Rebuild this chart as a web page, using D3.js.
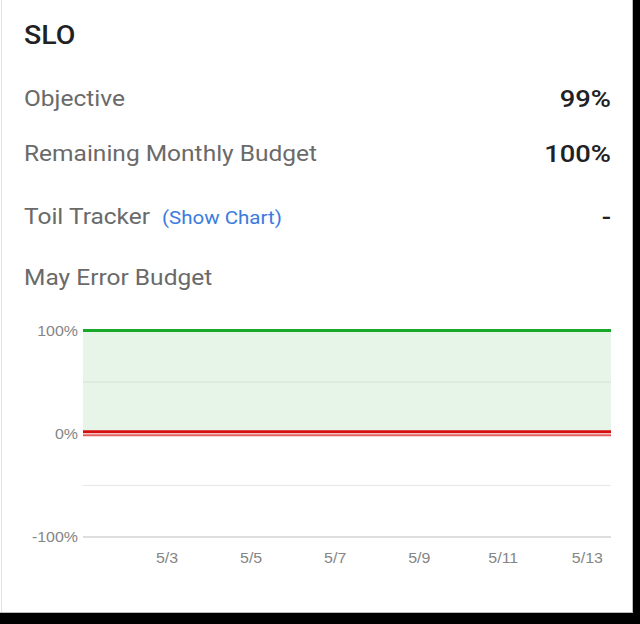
<!DOCTYPE html>
<html>
<head>
<meta charset="utf-8">
<script src="https://cdn.jsdelivr.net/npm/d3@7"></script>
<style>
  body { margin: 0; background: #000; }
  svg { display: block; }
</style>
</head>
<body>
<svg id="card"></svg>
<script>
// card rows
const rowLabels = ["Objective", "Remaining Monthly Budget", "Toil Tracker"];
const rowValues = ["99%", "100%", "-"];

// error budget chart data (percent)
const dates = ["2019-05-01", "2019-05-02", "2019-05-03", "2019-05-04", "2019-05-05",
               "2019-05-06", "2019-05-07", "2019-05-08", "2019-05-09", "2019-05-10",
               "2019-05-11", "2019-05-12", "2019-05-13", "2019-05-13T13:30"];
const remaining = [100, 100, 100, 100, 100, 100, 100, 100, 100, 100, 100, 100, 100, 100];
const burnLine = [2, 2, 2, 2, 2, 2, 2, 2, 2, 2, 2, 2, 2, 2];
const floorLine = [-1.5, -1.5, -1.5, -1.5, -1.5, -1.5, -1.5, -1.5, -1.5, -1.5, -1.5, -1.5, -1.5, -1.5];
const yTickValues = [-100, 0, 100];
const yGridValues = [-50, 50];
const xTickDates = ["2019-05-03", "2019-05-05", "2019-05-07", "2019-05-09", "2019-05-11", "2019-05-13"];

const width = 640, height = 624;
const SX = 1.14; // screenshot is a bit stretched sideways
const margin = { top: 330.5, right: 29, bottom: 87, left: 83 };

const parse = d => new Date(d);
const data = dates.map((d, i) => ({ date: parse(d), remaining: remaining[i], burn: burnLine[i], floor: floorLine[i] }));

const svg = d3.select("#card")
    .attr("width", width)
    .attr("height", height);

// card background + edges
svg.append("rect").attr("width", 633).attr("height", 613).attr("fill", "#fff");
svg.append("line").attr("x1", 1.5).attr("x2", 1.5).attr("y1", 0).attr("y2", 613).attr("stroke", "#e2e2e2");
svg.append("line").attr("x1", 632.5).attr("x2", 632.5).attr("y1", 0).attr("y2", 613).attr("stroke", "#bbb");
svg.append("line").attr("x1", 0).attr("x2", 633).attr("y1", 612.5).attr("y2", 612.5).attr("stroke", "#bbb");

function label(x, y, txt, opts) {
    const t = svg.append("text")
        .attr("transform", "translate(" + x + "," + y + ") scale(" + SX + ",1)")
        .attr("font-family", opts.font || "Roboto, sans-serif")
        .attr("font-size", opts.size)
        .attr("font-weight", opts.weight || 400)
        .attr("fill", opts.color)
        .attr("text-anchor", opts.anchor || "start")
        .text(txt);
    return t;
}

label(24, 44, "SLO", { size: 25, weight: 500, color: "#202124" });

const rowY = [106, 161, 224];
rowLabels.forEach((l, i) => {
    label(24, rowY[i], l, { size: 21.5, color: "#6a6a6a" });
    label(611, rowY[i] + 1, rowValues[i], { size: 24, weight: 500, color: "#202124", anchor: "end" });
});
label(162, 224, "(Show Chart)", { size: 18, color: "#3b7be0" });
label(24, 285, "May Error Budget", { size: 21.5, color: "#6a6a6a" });

// chart
const x = d3.scaleTime()
    .domain(d3.extent(data, d => d.date))
    .range([margin.left, width - margin.right]);
const y = d3.scaleLinear()
    .domain([-100, 100])
    .range([height - margin.bottom, margin.top]);

svg.append("g")
    .selectAll("line")
    .data(yGridValues)
    .join("line")
    .attr("x1", margin.left).attr("x2", width - margin.right)
    .attr("y1", d => y(d)).attr("y2", d => y(d))
    .attr("stroke", "#e6e6e6");

svg.append("path")
    .datum(data)
    .attr("fill", "#e6f5e8")
    .attr("d", d3.area().x(d => x(d.date)).y0(d => y(d.burn)).y1(d => y(d.remaining)));

// 50% grid shows through the fill
svg.append("line")
    .attr("x1", margin.left).attr("x2", width - margin.right)
    .attr("y1", y(50)).attr("y2", y(50))
    .attr("stroke", "#d6e2d8");

// baseline at -100%
svg.append("line")
    .attr("x1", margin.left).attr("x2", width - margin.right)
    .attr("y1", y(-100)).attr("y2", y(-100))
    .attr("stroke", "#bdbdbd");

const line = key => d3.line().x(d => x(d.date)).y(d => y(d[key]));

svg.append("path").datum(data)
    .attr("fill", "none").attr("stroke", "#e06060").attr("stroke-width", 2)
    .attr("d", line("floor"));
svg.append("path").datum(data)
    .attr("fill", "none").attr("stroke", "#d50f0f").attr("stroke-width", 3)
    .attr("d", line("burn"));
svg.append("path").datum(data)
    .attr("fill", "none").attr("stroke", "#1aa82c").attr("stroke-width", 3)
    .attr("d", line("remaining"));

// axis labels
yTickValues.forEach(v => {
    label(78, y(v) + 5, v + "%", { size: 14, color: "#858585", anchor: "end", font: "'Liberation Sans', Arial, sans-serif" });
});
const fmt = d3.timeFormat("%-m/%-d");
xTickDates.forEach(d => {
    const dt = parse(d);
    label(x(dt), 563, fmt(dt), { size: 14, color: "#858585", anchor: "middle", font: "'Liberation Sans', Arial, sans-serif" });
});
</script>
</body>
</html>
